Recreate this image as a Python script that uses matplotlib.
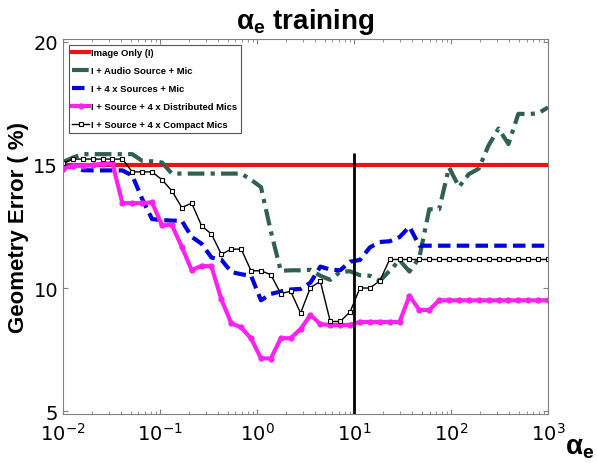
import numpy as np
import matplotlib
matplotlib.use('Agg')
import matplotlib.pyplot as plt
from matplotlib import font_manager

plt.rcParams['mathtext.fontset'] = 'custom'
plt.rcParams['mathtext.bf'] = 'Liberation Sans:bold'
plt.rcParams['mathtext.rm'] = 'Liberation Sans'

# alpha_e values (log spaced, 50 points from 1e-2 to 1e3)
alpha = np.logspace(-2, 3, 50)

image_only = [15.0] * 50

audio_source_mic = [15.12, 15.3, 15.44, 15.44, 15.44, 15.44, 15.44, 15.44, 15.17, 15.15,
                    15.1, 14.65, 14.65, 14.65, 14.65, 14.65, 14.65, 14.65, 14.65, 14.4,
                    14.1, 12.3, 10.7, 10.72, 10.72, 10.74, 10.5, 10.33, 10.66, 10.68,
                    10.52, 10.5, 10.29, 10.7, 11.13, 10.67, 11.24, 13.2, 13.2, 14.9,
                    14.11, 14.63, 14.85, 15.8, 16.48, 15.85, 17.08, 17.07, 17.1, 17.34]

four_sources_mic = [14.93, 14.93, 14.79, 14.78, 14.78, 14.78, 14.78, 14.57, 13.62, 12.8,
                    12.76, 12.74, 12.73, 12.08, 11.8, 11.24, 11.15, 10.65, 10.56, 10.5,
                    9.5, 9.76, 9.86, 9.94, 9.96, 10.22, 10.87, 10.75, 10.72, 11.07,
                    11.14, 11.65, 11.87, 11.9, 12.07, 12.49, 11.72, 11.72, 11.72, 11.72,
                    11.72, 11.72, 11.72, 11.72, 11.72, 11.72, 11.72, 11.72, 11.72, 11.72]

distributed_mics = [14.85, 14.97, 14.97, 15.0, 15.05, 15.07, 13.45, 13.45, 13.45, 13.48,
                    12.55, 12.56, 11.68, 10.73, 10.9, 10.88, 9.54, 8.57, 8.4, 7.95,
                    7.15, 7.13, 7.96, 7.96, 8.33, 8.91, 8.53, 8.5, 8.5, 8.5,
                    8.62, 8.62, 8.62, 8.62, 8.62, 9.68, 9.11, 9.11, 9.5, 9.5,
                    9.5, 9.5, 9.5, 9.5, 9.5, 9.5, 9.5, 9.5, 9.5, 9.5]

compact_mics = [15.07, 15.24, 15.24, 15.24, 15.24, 15.24, 15.24, 14.72, 14.72, 14.72,
                14.4, 13.95, 13.27, 13.45, 12.53, 12.19, 11.37, 11.58, 11.58, 10.7,
                10.7, 10.54, 9.77, 9.87, 8.98, 10.02, 10.27, 8.64, 8.64, 9.03,
                10.0, 10.0, 10.29, 11.16, 11.16, 11.16, 11.16, 11.16, 11.16, 11.16,
                11.16, 11.16, 11.16, 11.16, 11.16, 11.16, 11.16, 11.16, 11.16, 11.16]

chosen_alpha = 10
chosen_top = 15.5

# narrow bold font for the legend if we have it
names = {f.name for f in font_manager.fontManager.ttflist}
if 'Liberation Sans Narrow' in names:
    leg_font = {'family': 'Liberation Sans Narrow', 'weight': 'bold', 'size': 8}
else:
    leg_font = {'family': 'Liberation Sans', 'weight': 'bold', 'size': 6.8}

fig = plt.figure(figsize=(5.97, 4.64), dpi=100)
ax = fig.add_axes([0.1055, 0.1056, 0.8125, 0.8082])

ax.plot(alpha, image_only, color='#ee1111', lw=3, label='Image Only (I)')
ax.plot(alpha, audio_source_mic, color='#2f6050', lw=3, linestyle=(0, (4, 1.5, 1, 1.5)),
        label='I + Audio Source + Mic')
ax.plot(alpha, four_sources_mic, color='#0000dd', lw=3, linestyle=(0, (3, 1.5)),
        label='I + 4 x Sources + Mic')
ax.plot(alpha, distributed_mics, color='#ff22ee', lw=3, marker='o', markersize=3.5,
        label='I + Source + 4 x Distributed Mics')
ax.plot(alpha, compact_mics, color='black', lw=1, marker='s', markersize=3,
        markerfacecolor='white', markeredgewidth=0.8,
        label='I + Source + 4 x Compact Mics')

ax.set_xscale('log')
ax.set_xlim(1e-2, 1e3)
ax.set_ylim(4.88, 20.12)
ax.set_yticks([5, 10, 15, 20])
ax.vlines(chosen_alpha, 4.88, chosen_top, color='black', lw=2, zorder=10)

for s in ax.spines.values():
    s.set_color('#808080')
ax.tick_params(which='both', direction='in', top=True, right=True, colors='#808080',
               labelcolor='black', labelsize=14)
ax.tick_params(axis='x', pad=6)

ax.set_title(r'$\mathbf{\alpha_e}$' + ' training', fontsize=20, fontweight='bold',
             family='Liberation Sans', pad=8)
ax.set_ylabel('Geometry Error ( %)', fontsize=16, fontweight='bold', family='Liberation Sans')
ax.yaxis.set_label_coords(-0.07, 0.5)
ax.text(1.035, -0.085, r'$\mathbf{\alpha_e}$', transform=ax.transAxes, fontsize=20,
        ha='left', va='center')

leg = ax.legend(loc='upper left', prop=leg_font,
                fancybox=False, framealpha=1, edgecolor='#555555', handlelength=1.8,
                handletextpad=0.15, labelspacing=0.95, borderaxespad=0.6)
leg.get_frame().set_linewidth(0.8)

fig.savefig('out.png', dpi=100)
